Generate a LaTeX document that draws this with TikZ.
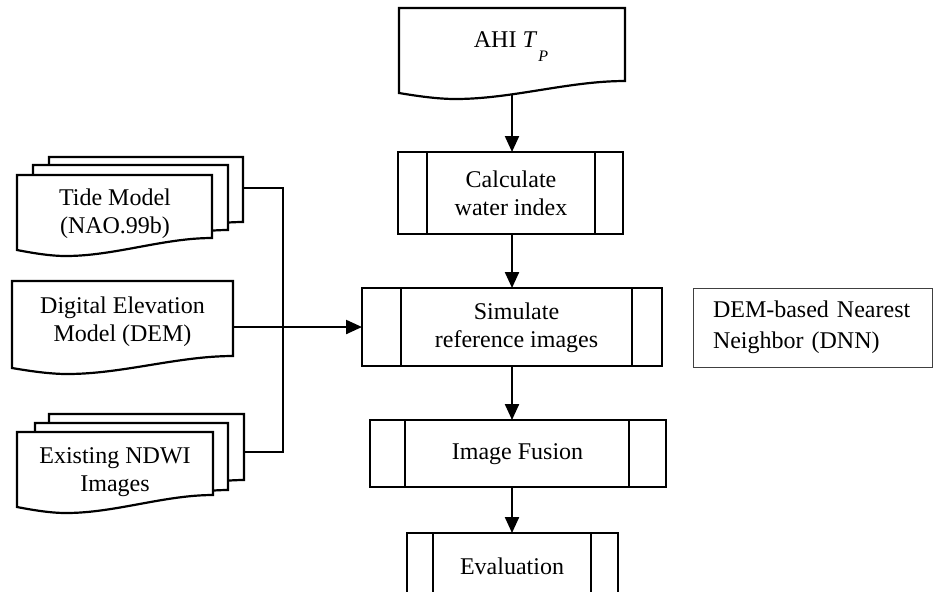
\documentclass[tikz,border=0pt]{standalone}
\usepackage{fontspec}
\setmainfont{Liberation Serif}
\usetikzlibrary{arrows.meta,calc}
\tikzset{
  ln/.style={line width=1.1pt},
  docline/.style={ln, fill=white},
  proc/.style={ln, draw, fill=white, inner sep=0pt, outer sep=0pt},
  txt/.style={align=center, inner sep=0pt, font=\fontsize{12}{13.8}\selectfont},
  arr/.style={ln, -{Triangle[width=7pt,length=8pt]}},
  notebox/.style={draw=black!75, line width=0.5pt, align=left, inner xsep=10pt, inner ysep=0pt,
     font=\fontsize{12}{15.5}\selectfont},
}
\newcommand\docshp[4]{%
  \pgfmathsetmacro\dw{#3-#1}%
  \draw[docline] (#1,#2) -- (#3,#2) -- (#3,#4-12)
    .. controls (#1+0.75*\dw,#4-12) and (#1+0.5*\dw,#4+6) .. (#1+0.25*\dw,#4+6)
    .. controls (#1+0.17*\dw,#4+6) and (#1+0.08*\dw,#4+3) .. (#1,#4) -- cycle;}
\begin{document}
\begin{tikzpicture}[x=0.5pt,y=-0.5pt]
\useasboundingbox (0,0) rectangle (935,591);
\clip (0,0) rectangle (935,591);

% ---- AHI document ----
\docshp{399}{8}{625}{93}
\node[txt, anchor=base] (ahit) at (511,47) {AHI \textit{T}\kern0.5pt\raisebox{-7pt}{\fontsize{8}{8}\selectfont\textit{P}}};
\coordinate (ahiB) at (512,94);

% ---- Tide model stack ----
\docshp{49}{157}{243}{234}
\docshp{33}{165}{228}{242}
\docshp{17}{175}{212}{250}
\node[txt] (tidet) at (115,214) {Tide Model\\(NAO.99b)};
\coordinate (tideR) at (243,188);

% ---- DEM document ----
\docshp{12}{281}{233}{368}
\node[txt] (demt) at (122.5,322) {Digital Elevation\\Model (DEM)};
\coordinate (demR) at (233,327);

% ---- NDWI stack ----
\docshp{49}{414}{244}{492}
\docshp{35}{423}{228}{502}
\docshp{17}{432}{213}{507}
\node[txt] (ndwit) at (115,472) {Existing NDWI\\Images};
\coordinate (ndwiR) at (244,452);

% ---- process boxes ----
\node[proc, minimum width=112.5pt, minimum height=41pt] (calc) at (510.5,193) {};
\draw[ln] ([xshift=14.5pt]calc.north west) -- ([xshift=14.5pt]calc.south west);
\draw[ln] ([xshift=-14pt]calc.north east) -- ([xshift=-14pt]calc.south east);
\node[txt] (calct) at (511,193) {Calculate\\water index};

\node[proc, minimum width=150pt, minimum height=39pt] (sim) at (512,327) {};
\draw[ln] ([xshift=19.5pt]sim.north west) -- ([xshift=19.5pt]sim.south west);
\draw[ln] ([xshift=-15pt]sim.north east) -- ([xshift=-15pt]sim.south east);
\node[txt] (simt) at (516.5,328) {Simulate\\reference images};

\node[proc, minimum width=148pt, minimum height=33.5pt] (fus) at (518,453.5) {};
\draw[ln] ([xshift=17.5pt]fus.north west) -- ([xshift=17.5pt]fus.south west);
\draw[ln] ([xshift=-18.5pt]fus.north east) -- ([xshift=-18.5pt]fus.south east);
\node[txt] (fust) at (517.5,454) {Image Fusion};

\node[proc, minimum width=105.5pt, minimum height=33.5pt] (eval) at (512.5,566.5) {};
\draw[ln] ([xshift=13pt]eval.north west) -- ([xshift=13pt]eval.south west);
\draw[ln] ([xshift=-13.5pt]eval.north east) -- ([xshift=-13.5pt]eval.south east);
\node[txt] (evalt) at (512,566) {Evaluation};

% ---- DNN note ----
\node[notebox, text width=99.5pt, minimum height=39.5pt] (dnn) at (812.5,327.5) {DEM-based Nearest\\Neighbor (DNN)};

% ---- connectors ----
\coordinate (busT) at (283,188);
\coordinate (busB) at (283,452);
\draw[ln] (tideR) -- (busT) -- (busB) -- (ndwiR);
\draw[arr] (demR) -- (sim.west);
\draw[arr] (ahiB) -- (calc.north -| ahiB);
\draw[arr] (calc.south -| ahiB) -- (sim.north -| ahiB);
\draw[arr] (sim.south -| ahiB) -- (fus.north -| ahiB);
\draw[arr] (fus.south -| ahiB) -- (eval.north -| ahiB);
\end{tikzpicture}
\end{document}
